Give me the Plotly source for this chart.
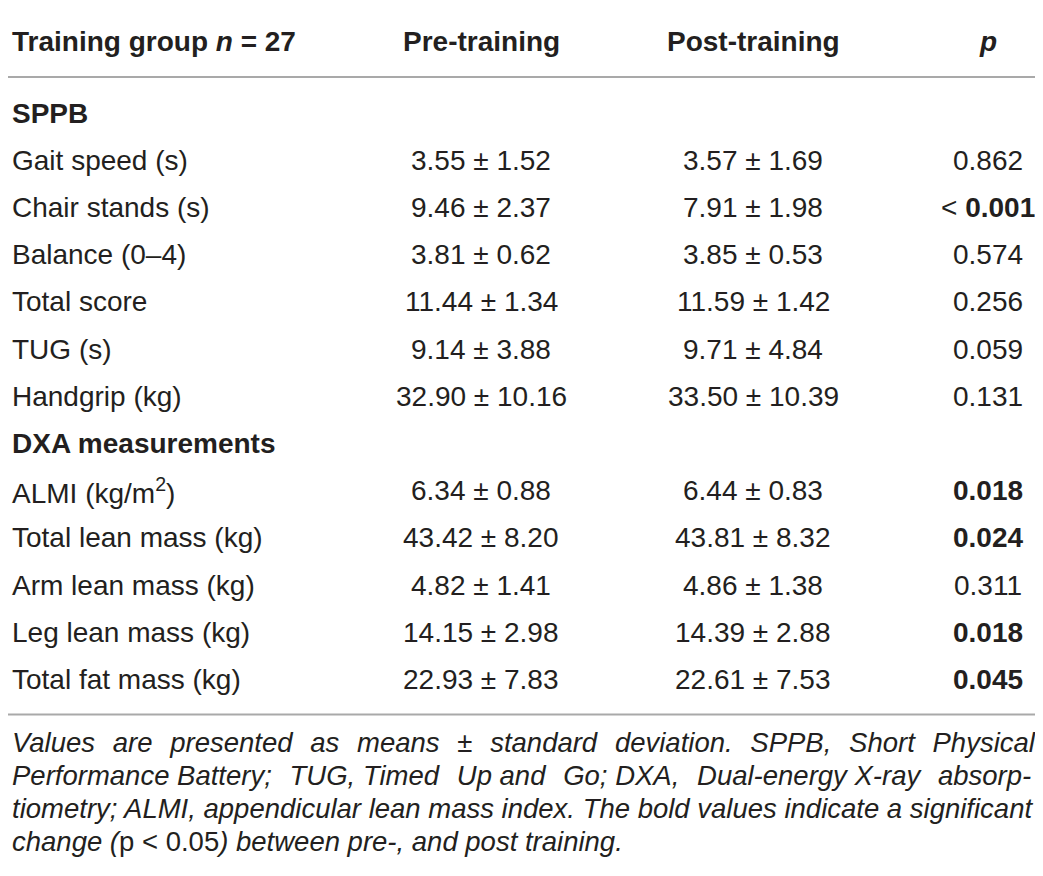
import plotly.graph_objects as go

# table content
header = ["Training group <i>n</i> = 27", "Pre-training", "Post-training", "<i>p</i>"]

sppb_labels = ["Gait speed (s)", "Chair stands (s)", "Balance (0–4)", "Total score", "TUG (s)", "Handgrip (kg)"]
sppb_pre_mean = [3.55, 9.46, 3.81, 11.44, 9.14, 32.90]
sppb_pre_sd = [1.52, 2.37, 0.62, 1.34, 3.88, 10.16]
sppb_post_mean = [3.57, 7.91, 3.85, 11.59, 9.71, 33.50]
sppb_post_sd = [1.69, 1.98, 0.53, 1.42, 4.84, 10.39]
sppb_p = [0.862, 0.001, 0.574, 0.256, 0.059, 0.131]
sppb_p_below = [False, True, False, False, False, False]

dxa_labels = ["ALMI (kg/m<sup>2</sup>)", "Total lean mass (kg)", "Arm lean mass (kg)",
              "Leg lean mass (kg)", "Total fat mass (kg)"]
dxa_pre_mean = [6.34, 43.42, 4.82, 14.15, 22.93]
dxa_pre_sd = [0.88, 8.20, 1.41, 2.98, 7.83]
dxa_post_mean = [6.44, 43.81, 4.86, 14.39, 22.61]
dxa_post_sd = [0.83, 8.32, 1.38, 2.88, 7.53]
dxa_p = [0.018, 0.024, 0.311, 0.018, 0.045]
dxa_p_below = [False, False, False, False, False]

sections = [
    ("SPPB", sppb_labels, sppb_pre_mean, sppb_pre_sd, sppb_post_mean, sppb_post_sd, sppb_p, sppb_p_below),
    ("DXA measurements", dxa_labels, dxa_pre_mean, dxa_pre_sd, dxa_post_mean, dxa_post_sd, dxa_p, dxa_p_below),
]

footnote = [
    "Values are presented as means ± standard deviation. SPPB, Short Physical",
    "Performance Battery; TUG, Timed Up and Go; DXA, Dual-energy X-ray absorp-",
    "tiometry; ALMI, appendicular lean mass index. The bold values indicate a significant",
    "change (</i>p &lt; 0.05<i>) between pre-, and post training.",
]
# which word gaps get widened on each footnote line (fake justification)
foot_wide_gaps = [range(10), [1, 3, 5, 7, 9], [], []]

W, H = 1043, 876
OFF = 8  # page body margin
TXT = "#231f20"
RULE = "#a9a9a9"
FONT = "Liberation Sans, Arial, sans-serif"
FS = 28
PAD = "\u2009\u2006"

col_x = [10, 481, 753, 988]
header_y = 41
first_y = 113
row_h = 47.2

fig = go.Figure()
ann = []


def cell(x, y, text, align="center", bold=False, size=FS):
    if bold:
        text = f"<b>{text}</b>"
    ann.append(dict(x=x, y=y, text=text, xref="x", yref="y", showarrow=False,
                    xanchor="left" if align == "left" else "center", yanchor="middle",
                    font=dict(family=FONT, size=size, color=TXT)))


cell(col_x[0], header_y, header[0], align="left", bold=True)
for j in range(1, 4):
    cell(col_x[j], header_y, header[j], bold=True)

r = 0
for name, labels, pm, ps, qm, qs, pv, below in sections:
    cell(col_x[0], first_y + r * row_h, name, align="left", bold=True)
    r += 1
    for i, lab in enumerate(labels):
        y = first_y + r * row_h
        cell(col_x[0], y, lab, align="left")
        cell(col_x[1], y, f"{pm[i]:.2f} ± {ps[i]:.2f}")
        cell(col_x[2], y, f"{qm[i]:.2f} ± {qs[i]:.2f}")
        ptxt = f"{pv[i]:.3f}"
        if pv[i] < 0.05:
            ptxt = f"<b>{ptxt}</b>"
        if below[i]:
            ptxt = "&lt; " + ptxt
        cell(col_x[3], y, ptxt)
        r += 1

last_y = first_y + (r - 1) * row_h
rule_ys = [6, 77, last_y + 35]
shapes = [dict(type="line", xref="x", yref="y", x0=5, x1=1037, y0=yy, y1=yy,
               line=dict(color=RULE, width=2)) for yy in rule_ys]

foot_y0 = last_y + 63
for k, line in enumerate(footnote):
    words = line.split(" ")
    txt = words[0]
    for g, w in enumerate(words[1:]):
        txt += " " + (PAD if g in foot_wide_gaps[k] else "") + w
    cell(col_x[0], foot_y0 + k * 33, f"<i>{txt}</i>", align="left", size=27.5)

fig.update_layout(
    width=W, height=H, margin=dict(l=0, r=0, t=0, b=0),
    paper_bgcolor="white", plot_bgcolor="white",
    xaxis=dict(range=[OFF, W + OFF], visible=False, fixedrange=True),
    yaxis=dict(range=[H + OFF, OFF], visible=False, fixedrange=True),
    annotations=ann, shapes=shapes, showlegend=False,
)

fig.write_html("out.html")
